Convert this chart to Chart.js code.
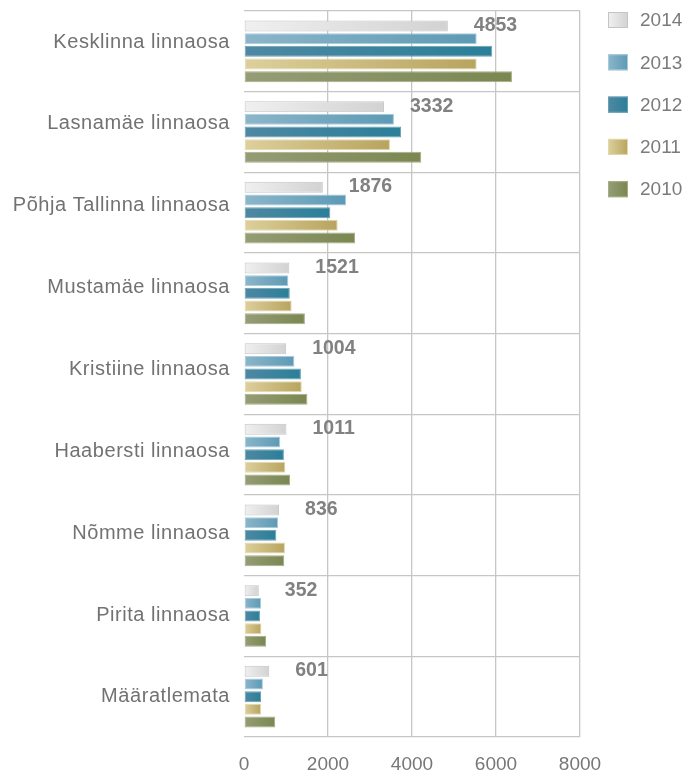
<!DOCTYPE html>
<html>
<head>
<meta charset="utf-8">
<script src="https://cdn.jsdelivr.net/npm/chart.js@4.4.1/dist/chart.umd.min.js"></script>
<style>
    html, body { margin: 0; padding: 0; background: #fff; }
</style>
</head>
<body>
<canvas id="myChart" width="689" height="774"></canvas>
<script>
const districts = [
    'Kesklinna linnaosa', 'Lasnamäe linnaosa', 'Põhja Tallinna linnaosa',
    'Mustamäe linnaosa', 'Kristiine linnaosa', 'Haabersti linnaosa',
    'Nõmme linnaosa', 'Pirita linnaosa', 'Määratlemata'
];
const years = ['2014', '2013', '2012', '2011', '2010'];
const values2014 = [4853, 3332, 1876, 1080, 1004, 1011, 836, 352, 601];
const values2013 = [5540, 3570, 2430, 1055, 1200, 860, 810, 405, 450];
const values2012 = [5910, 3740, 2055, 1090, 1355, 950, 770, 380, 405];
const values2011 = [5540, 3475, 2230, 1135, 1375, 985, 975, 415, 405];
const values2010 = [6380, 4220, 2645, 1450, 1510, 1095, 960, 525, 745];
const labels2014 = ['4853', '3332', '1876', '1521', '1004', '1011', '836', '352', '601'];
const xTicks = [0, 2000, 4000, 6000, 8000];

const FONT = '"Liberation Sans", Arial, Helvetica, sans-serif';

// colores: claro a la izquierda, oscuro a la derecha
const palette = [
    { light: '#f0f0f0', dark: '#d2d2d2', border: '#c4c4c4' },
    { light: '#8cb6ca', dark: '#5d9ab5', border: '#a9cbd9' },
    { light: '#4f88a2', dark: '#2a7f99', border: '#6b9fb4' },
    { light: '#ddd09c', dark: '#b8a45f', border: '#e3d8aa' },
    { light: '#959d76', dark: '#7a8750', border: '#a5ad87' }
];

function barGradient(context, i) {
    const chart = context.chart;
    const c = palette[i];
    if (!chart.chartArea || context.type !== 'data') return c.dark;
    const x = chart.scales.x;
    const x0 = x.getPixelForValue(0);
    const x1 = x.getPixelForValue(context.raw);
    const g = chart.ctx.createLinearGradient(x0, 0, Math.max(x1, x0 + 1), 0);
    g.addColorStop(0, c.light);
    g.addColorStop(1, c.dark);
    return g;
}

const seriesValues = [values2014, values2013, values2012, values2011, values2010];
const datasets = years.map((year, i) => ({
    label: year,
    data: seriesValues[i],
    backgroundColor: (ctx) => barGradient(ctx, i),
    borderColor: palette[i].border,
    borderWidth: 1,
    borderSkipped: false,
    categoryPercentage: 0.785,
    barPercentage: 0.87
}));

// etiquetas de valor junto a las barras de 2014
const valueLabels = {
    id: 'valueLabels',
    afterDatasetsDraw(chart) {
        const ctx = chart.ctx;
        const meta = chart.getDatasetMeta(0);
        ctx.save();
        ctx.font = 'bold 19.5px ' + FONT;
        ctx.fillStyle = '#818181';
        ctx.textAlign = 'left';
        ctx.textBaseline = 'alphabetic';
        meta.data.forEach((bar, i) => {
            ctx.fillText(labels2014[i], bar.x + 26, bar.y + bar.height / 2 - 0.5);
        });
        ctx.restore();
    }
};

// leyenda a la derecha
const sideLegend = {
    id: 'sideLegend',
    afterDraw(chart) {
        const ctx = chart.ctx;
        const left = chart.chartArea.right + 28;
        ctx.save();
        ctx.font = '19px ' + FONT;
        ctx.textBaseline = 'middle';
        ctx.textAlign = 'left';
        chart.data.datasets.forEach((ds, i) => {
            const c = palette[i];
            const top = 12 + i * 42.3;
            const g = ctx.createLinearGradient(left, 0, left + 20, 0);
            g.addColorStop(0, c.light);
            g.addColorStop(1, c.dark);
            ctx.fillStyle = g;
            ctx.fillRect(left, top, 20, 16);
            ctx.strokeStyle = c.border;
            ctx.lineWidth = 1;
            ctx.strokeRect(left + 0.5, top + 0.5, 19, 15);
            ctx.fillStyle = '#7b7b7b';
            ctx.fillText(ds.label, left + 32, top + 9);
        });
        ctx.restore();
    }
};

// un poco de espaciado entre letras en los nombres de distritos
const spacedLabels = {
    id: 'spacedLabels',
    afterLayout(chart) {
        const s = chart.scales.names;
        if (s._spaced) return;
        const orig = s.drawLabels.bind(s);
        s.drawLabels = function (area) {
            const prev = this.ctx.letterSpacing;
            this.ctx.letterSpacing = '0.55px';
            orig(area);
            this.ctx.letterSpacing = prev || '0px';
        };
        s._spaced = true;
    }
};

const ctx = document.getElementById('myChart').getContext('2d');
new Chart(ctx, {
    type: 'bar',
    data: { labels: districts, datasets: datasets },
    plugins: [valueLabels, sideLegend, spacedLabels],
    options: {
        indexAxis: 'y',
        responsive: false,
        animation: false,
        devicePixelRatio: 1,
        layout: { padding: { top: 11, right: 109, bottom: 0, left: 0 } },
        plugins: {
            legend: { display: false },
            tooltip: { enabled: false }
        },
        scales: {
            x: {
                min: 0,
                max: 8000,
                afterBuildTicks: (s) => { s.ticks = xTicks.map(v => ({ value: v })); },
                afterFit: (s) => { s.height = 37; s.paddingTop = 0; s.paddingBottom = 0; },
                border: { display: false },
                grid: {
                    drawTicks: false,
                    lineWidth: 1.3,
                    color: (c) => (c.tick && c.tick.value === 0) ? 'rgba(0,0,0,0)' : '#c6c6c6'
                },
                ticks: {
                    padding: 16,
                    color: '#777777',
                    font: { family: FONT, size: 19 },
                    maxRotation: 0,
                    callback: (v) => String(v)
                }
            },
            y: {
                afterFit: (s) => { s.width = 0; s.paddingTop = 0; s.paddingBottom = 0; },
                border: { display: false },
                grid: { drawTicks: false, lineWidth: 1.3, color: '#c6c6c6' },
                ticks: { display: false }
            },
            // nombres de distritos: en el original van un poco más espaciados que las bandas
            names: {
                type: 'linear',
                position: 'left',
                reverse: true,
                offset: false,
                bounds: 'data',
                min: -0.38,
                max: 8.49,
                afterBuildTicks: (s) => { s.ticks = districts.map((d, i) => ({ value: i })); },
                afterFit: (s) => { s.width = 244; s.paddingTop = 0; s.paddingBottom = 0; },
                border: { display: false },
                grid: { display: false, drawTicks: false, offset: false },
                ticks: {
                    padding: 14,
                    color: '#727272',
                    font: { family: FONT, size: 20 },
                    callback: (v) => districts[v]
                }
            }
        }
    }
});
</script>
</body>
</html>
